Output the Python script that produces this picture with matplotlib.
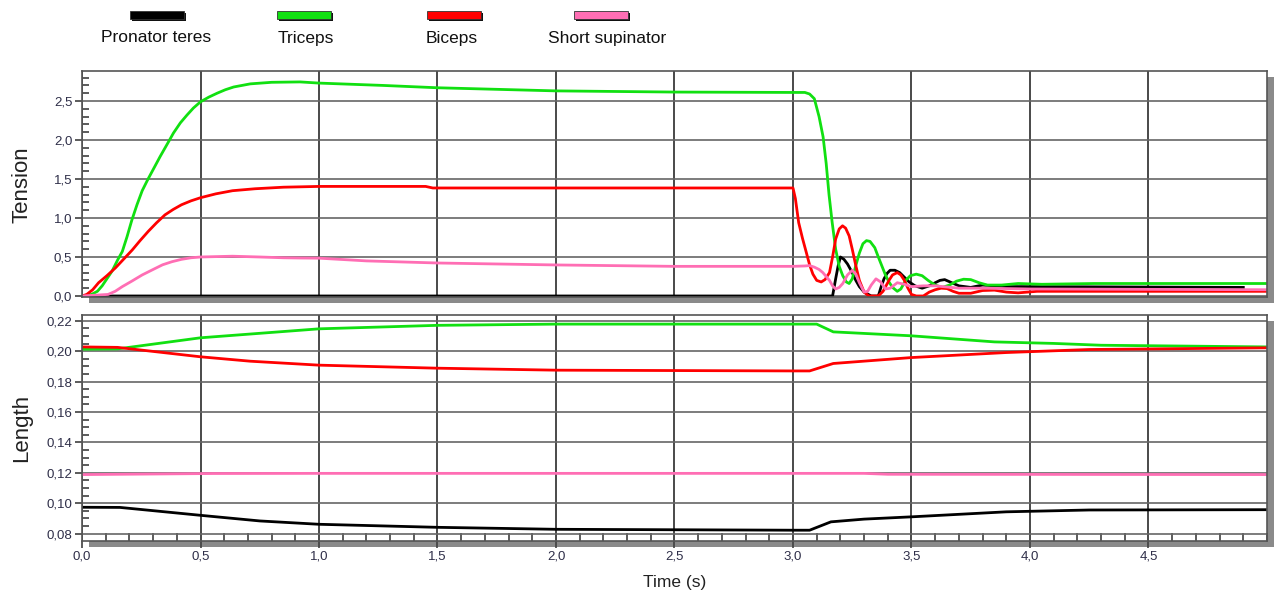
import numpy as np
from matplotlib import pyplot as plt
from matplotlib.patches import Rectangle
from matplotlib.ticker import MultipleLocator, FuncFormatter

# ---- data ----
series_names = ['Pronator teres', 'Triceps', 'Biceps', 'Short supinator']
series_colors = ['#000000', '#11e011', '#ff0000', '#ff6eb4']

# Tension (top panel)
pro_t = [0.0, 3.167, 3.18, 3.19, 3.20, 3.215, 3.23, 3.25, 3.265, 3.28, 3.30, 3.33,
         3.36, 3.372, 3.384, 3.397, 3.41, 3.43, 3.45, 3.47, 3.49, 3.515, 3.545,
         3.575, 3.6, 3.62, 3.64, 3.67, 3.70, 3.75, 3.8, 3.85, 3.9, 4.0, 4.9]
pro_T = [0.0, 0.0, 0.22, 0.38, 0.50, 0.47, 0.41, 0.30, 0.20, 0.12, 0.05, 0.0,
         0.0, 0.12, 0.22, 0.29, 0.33, 0.33, 0.30, 0.24, 0.18, 0.13, 0.10,
         0.13, 0.17, 0.20, 0.21, 0.17, 0.13, 0.11, 0.14, 0.13, 0.12, 0.12, 0.11]

tri_t = [0.0, 0.04, 0.065, 0.085, 0.105, 0.127, 0.15, 0.17, 0.19, 0.21, 0.232,
         0.254, 0.277, 0.30, 0.33, 0.36, 0.386, 0.415, 0.443, 0.47, 0.5, 0.535,
         0.57, 0.605, 0.64, 0.675, 0.71, 0.8, 0.92, 1.0, 1.27, 1.5, 2.0, 2.5, 3.0,
         3.05, 3.07, 3.09, 3.11, 3.127, 3.14, 3.152, 3.165, 3.18, 3.195, 3.21,
         3.225, 3.237, 3.25, 3.265, 3.28, 3.295, 3.31, 3.325, 3.345, 3.36, 3.377,
         3.39, 3.405, 3.42, 3.44, 3.455, 3.475, 3.495, 3.52, 3.545, 3.57, 3.60,
         3.63, 3.66, 3.69, 3.72, 3.75, 3.785, 3.82, 3.88, 3.95, 4.05, 4.27, 5.0]
tri_T = [0.0, 0.02, 0.06, 0.13, 0.22, 0.32, 0.46, 0.57, 0.76, 0.97, 1.17,
         1.35, 1.49, 1.62, 1.79, 1.95, 2.09, 2.22, 2.32, 2.41, 2.49, 2.55,
         2.60, 2.645, 2.68, 2.70, 2.72, 2.74, 2.745, 2.73, 2.70, 2.67, 2.63, 2.615, 2.61,
         2.61, 2.59, 2.53, 2.30, 2.04, 1.70, 1.30, 0.95, 0.60, 0.38, 0.26,
         0.18, 0.16, 0.22, 0.39, 0.55, 0.67, 0.71, 0.70, 0.62, 0.50, 0.37,
         0.27, 0.18, 0.11, 0.06, 0.09, 0.20, 0.26, 0.28, 0.26, 0.20, 0.14,
         0.11, 0.14, 0.19, 0.215, 0.21, 0.17, 0.14, 0.14, 0.16, 0.15, 0.16, 0.16]

bic_t = [0.0, 0.02, 0.045, 0.07, 0.105, 0.141, 0.175, 0.212, 0.245, 0.28, 0.315,
         0.35, 0.385, 0.42, 0.46, 0.5, 0.565, 0.635, 0.73, 0.85, 1.0, 1.45, 1.48,
         2.0, 2.5, 3.0, 3.01, 3.024, 3.04, 3.056, 3.07, 3.084, 3.10, 3.119, 3.135,
         3.154, 3.167, 3.18, 3.195, 3.209, 3.222, 3.237, 3.25, 3.265, 3.28, 3.30,
         3.32, 3.36, 3.38, 3.405, 3.42, 3.44, 3.455, 3.47, 3.485, 3.50, 3.52, 3.55,
         3.575, 3.6, 3.625, 3.65, 3.675, 3.7, 3.75, 3.8, 3.85, 3.9, 3.95, 4.03, 5.0]
bic_T = [0.0, 0.02, 0.08, 0.17, 0.26, 0.36, 0.47, 0.59, 0.71, 0.83, 0.94,
         1.04, 1.11, 1.17, 1.22, 1.26, 1.31, 1.35, 1.375, 1.395, 1.405, 1.405, 1.385,
         1.385, 1.385, 1.385, 1.25, 0.94, 0.74, 0.56, 0.40, 0.28, 0.20, 0.18, 0.21,
         0.30, 0.50, 0.73, 0.86, 0.90, 0.87, 0.77, 0.60, 0.39, 0.20, 0.05,
         0.0, 0.0, 0.06, 0.20, 0.27, 0.30, 0.27, 0.20, 0.10, 0.02, 0.0, 0.0,
         0.05, 0.08, 0.10, 0.095, 0.06, 0.035, 0.035, 0.07, 0.075, 0.05, 0.04, 0.06, 0.06]

sup_t = [0.0, 0.11, 0.14, 0.17, 0.21, 0.254, 0.30, 0.34, 0.38, 0.42, 0.46, 0.5,
         0.635, 0.75, 0.85, 0.92, 1.0, 1.2, 1.5, 2.0, 2.5, 3.0, 3.05, 3.07, 3.09,
         3.11, 3.126, 3.14, 3.154, 3.167, 3.18, 3.195, 3.21, 3.23, 3.25, 3.265,
         3.28, 3.30, 3.315, 3.33, 3.35, 3.37, 3.39, 3.41, 3.44, 3.47, 3.50, 3.55,
         3.6, 3.7, 3.8, 4.0, 5.0]
sup_T = [0.0, 0.02, 0.06, 0.12, 0.19, 0.27, 0.34, 0.40, 0.44, 0.47, 0.49, 0.50,
         0.51, 0.50, 0.49, 0.487, 0.485, 0.45, 0.423, 0.398, 0.38, 0.38, 0.385, 0.39, 0.37,
         0.34, 0.30, 0.25, 0.20, 0.13, 0.09, 0.11, 0.16, 0.27, 0.33, 0.28,
         0.17, 0.05, 0.06, 0.14, 0.22, 0.18, 0.09, 0.10, 0.17, 0.15, 0.12, 0.13,
         0.13, 0.10, 0.10, 0.09, 0.08]

# Length (bottom panel)
pro_len_t = [0.0, 0.16, 0.5, 0.75, 1.0, 1.5, 2.0, 3.0, 3.07, 3.16, 3.3, 3.5, 3.9, 4.25, 5.0]
pro_len = [0.0973, 0.0972, 0.0920, 0.0883, 0.0861, 0.0841, 0.0828, 0.0822, 0.0822,
           0.0877, 0.0895, 0.0910, 0.0943, 0.0955, 0.0957]

tri_len_t = [0.0, 0.15, 0.5, 1.0, 1.5, 2.0, 3.0, 3.1, 3.17, 3.5, 3.85, 4.1, 4.3, 5.0]
tri_len = [0.2013, 0.2015, 0.2088, 0.2147, 0.2170, 0.2178, 0.2178, 0.2178, 0.2127,
           0.2101, 0.2061, 0.2051, 0.2039, 0.2028]

bic_len_t = [0.0, 0.15, 0.5, 0.71, 1.0, 1.5, 2.0, 3.0, 3.07, 3.17, 3.5, 3.9, 4.25, 5.0]
bic_len = [0.2028, 0.2025, 0.1963, 0.1934, 0.1908, 0.1888, 0.1875, 0.1870, 0.1870,
           0.1919, 0.1958, 0.1991, 0.2011, 0.2022]

sup_len_t = [0.0, 0.55, 1.0, 3.3, 3.4, 5.0]
sup_len = [0.1188, 0.1195, 0.1196, 0.1196, 0.1190, 0.1188]

x_ticks = [0.0, 0.5, 1.0, 1.5, 2.0, 2.5, 3.0, 3.5, 4.0, 4.5]
tension_ticks = [0.0, 0.5, 1.0, 1.5, 2.0, 2.5]
length_ticks = [0.08, 0.10, 0.12, 0.14, 0.16, 0.18, 0.20, 0.22]

W, H = 1277, 595
TICK_COLOR = '#2e2e48'
plt.rcParams['font.family'] = ['Liberation Sans', 'DejaVu Sans']


def fx(px):
    return px / W


def fy(py):
    return 1 - py / H


def comma(decimals):
    return FuncFormatter(lambda v, pos: ('{:.%df}' % decimals).format(v).replace('.', ','))


def style_panel(fig, ax, y_ticks, y_minor, y_decimals):
    '''Grid, ticks, frame and drop shadow of one panel.'''
    ax.set_xlim(0, 5.0)
    ax.set_xticks(x_ticks)
    ax.set_yticks(y_ticks)
    ax.yaxis.set_minor_locator(MultipleLocator(y_minor))
    ax.yaxis.set_major_formatter(comma(y_decimals))
    ax.xaxis.set_major_formatter(comma(1))
    ax.grid(True, axis='x', color='#2a2a2a', linewidth=1.2)
    ax.grid(True, axis='y', color='#666666', linewidth=1.2)
    ax.set_axisbelow(True)
    ax.tick_params(which='major', direction='out', length=5, width=1.2,
                   color='#404040', labelsize=9.5, labelcolor=TICK_COLOR, pad=2)
    ax.tick_params(which='minor', direction='in', length=5, width=1.2, color='#404040')
    for sp in ax.spines.values():
        sp.set_color('#555555')
        sp.set_linewidth(1.2)
    # grey drop shadow behind the panel
    pos = ax.get_position()
    shadow = Rectangle((pos.x0 + fx(7), pos.y0 - 6 / H), pos.width, pos.height,
                       transform=fig.transFigure, facecolor='#8a8a8a',
                       edgecolor='none', zorder=-1)
    fig.patches.append(shadow)


def main():
    fig = plt.figure(figsize=(W / 100, H / 100), dpi=100)
    ax_t = fig.add_axes([fx(82), fy(297), fx(1267 - 82), (297 - 71) / H])
    ax_l = fig.add_axes([fx(82), fy(541), fx(1267 - 82), (541 - 315) / H])

    lw = 2.0
    tension = [(pro_t, pro_T), (tri_t, tri_T), (bic_t, bic_T), (sup_t, sup_T)]
    length = [(pro_len_t, pro_len), (tri_len_t, tri_len),
              (bic_len_t, bic_len), (sup_len_t, sup_len)]
    for (t, v), c in zip(tension, series_colors):
        ax_t.plot(t, v, color=c, linewidth=lw, solid_joinstyle='round')
    for (t, v), c in zip(length, series_colors):
        ax_l.plot(t, v, color=c, linewidth=lw, solid_joinstyle='round')

    ax_t.set_ylim(-0.013, 2.885)
    ax_l.set_ylim(0.0751, 0.2238)
    style_panel(fig, ax_t, tension_ticks, 0.1, 1)
    style_panel(fig, ax_l, length_ticks, 0.005, 2)
    ax_t.tick_params(axis='x', which='both', bottom=False, labelbottom=False)
    ax_l.xaxis.set_minor_locator(MultipleLocator(0.1))
    ax_l.tick_params(axis='x', which='minor', length=6)

    fig.text(fx(22), fy(185), 'Tension', rotation=90, ha='center', va='center',
             fontsize=16, color='#222222')
    fig.text(fx(22), fy(428), 'Length', rotation=90, ha='center', va='center',
             fontsize=16, color='#222222')
    fig.text(fx(675), fy(582), 'Time (s)', ha='center', va='center',
             fontsize=12.5, color='#222222')

    # legend: coloured bar with a dark shadow, name underneath
    legend_x = [130, 277, 427, 574]
    label_x = [156, 306, 452, 607]
    for name, c, lx, tx in zip(series_names, series_colors, legend_x, label_x):
        fig.patches.append(Rectangle((fx(lx + 2), fy(21)), fx(54), 8 / H,
                                     transform=fig.transFigure, facecolor='#111111',
                                     edgecolor='none'))
        fig.patches.append(Rectangle((fx(lx), fy(19)), fx(54), 8 / H,
                                     transform=fig.transFigure, facecolor=c,
                                     edgecolor='#333333', linewidth=0.6))
        fig.text(fx(tx), fy(38), name, ha='center', va='center',
                 fontsize=12.5, color='#111111')

    plt.savefig('out.png', dpi=100)


if __name__ == '__main__':
    main()
